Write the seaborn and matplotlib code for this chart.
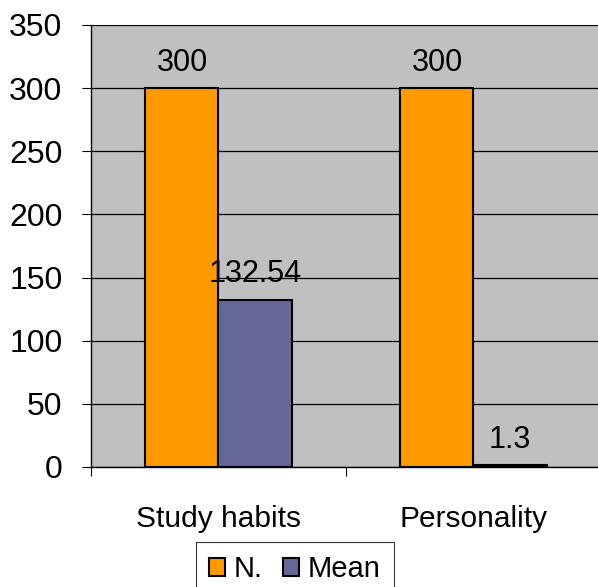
import matplotlib
matplotlib.use("Agg")
import matplotlib.pyplot as plt
import seaborn as sns
import pandas as pd
from matplotlib.patches import Patch

categories = ["Study habits", "Personality"]
series = ["N.", "Mean"]
n_values = [300, 300]
mean_values = [132.54, 1.3]
value_labels_n = ["300", "300"]
value_labels_mean = ["132.54", "1.3"]
y_ticks = [0, 50, 100, 150, 200, 250, 300, 350]

df = pd.DataFrame({
    "category": categories * 2,
    "series": [series[0]] * 2 + [series[1]] * 2,
    "value": n_values + mean_values,
})

sns.set_style("white")
plt.rcParams["font.family"] = ["Liberation Sans", "DejaVu Sans"]
plt.rcParams["text.color"] = "black"
plt.rcParams["xtick.color"] = "black"
plt.rcParams["ytick.color"] = "black"
plt.rcParams["xtick.labelcolor"] = "black"
plt.rcParams["ytick.labelcolor"] = "black"

fig = plt.figure(figsize=(5.98, 5.87), dpi=100)
ax = fig.add_axes([91 / 598, 120 / 587, 510 / 598, 442 / 587])
ax.set_facecolor("#C0C0C0")

sns.barplot(data=df, x="category", y="value", hue="series",
            palette=["#FF9900", "#666699"], width=0.573, ax=ax,
            edgecolor="black", linewidth=1.5, legend=False, saturation=1)

labels_all = [value_labels_n, value_labels_mean]
for cont, labs in zip(ax.containers, labels_all):
    ax.bar_label(cont, labels=labs, padding=7.5, fontsize=22, color="black")

ax.set_ylim(0, 350)
ax.set_xlim(-0.5, 1.5)
ax.set_yticks(y_ticks)
ax.set_yticklabels([str(t) for t in y_ticks], fontsize=23)
ax.yaxis.grid(True, color="black", linewidth=0.9)
ax.set_axisbelow(True)
ax.tick_params(axis="y", length=6.5, width=0.8, color="black", left=True, pad=14)

ax.set_xticks([-0.5, 0.5, 1.5])
ax.set_xticklabels(["", "", ""])
ax.tick_params(axis="x", which="major", length=6.5, width=0.8, color="black", bottom=True, direction="out")
ax.set_xticks([0, 1], minor=True)
ax.set_xticklabels(categories, minor=True, fontsize=21.5)
ax.tick_params(axis="x", which="minor", length=0, pad=27.5)

ax.set_xlabel("")
ax.set_ylabel("")
for s in ["top", "right"]:
    ax.spines[s].set_visible(False)
ax.spines["left"].set_color("black")
ax.spines["bottom"].set_color("black")
ax.spines["left"].set_linewidth(1.0)
ax.spines["bottom"].set_linewidth(1.0)

handles = [Patch(facecolor="#FF9900", edgecolor="black", linewidth=1.5),
           Patch(facecolor="#666699", edgecolor="black", linewidth=1.5)]
leg = fig.legend(handles, series, loc="upper center", bbox_to_anchor=(295 / 598, 45 / 587),
                 ncol=2, fontsize=21, frameon=True, fancybox=False, shadow=False,
                 handlelength=0.55, handleheight=0.55, handletextpad=0.3,
                 columnspacing=0.7, borderpad=0.45, borderaxespad=0)
leg.get_frame().set_edgecolor("black")
leg.get_frame().set_linewidth(0.8)

fig.savefig("out.png", dpi=100)
